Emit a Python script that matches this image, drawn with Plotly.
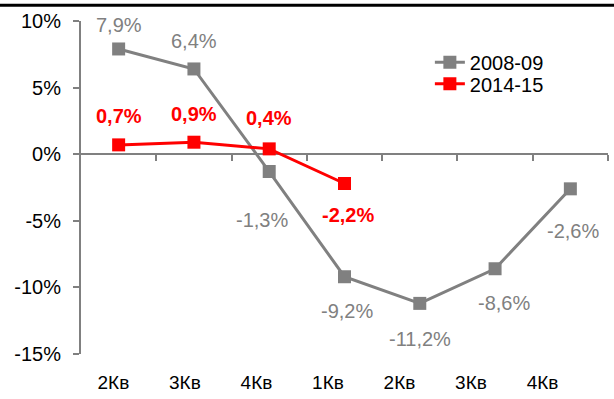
import plotly.graph_objects as go

# Quarter labels and growth rates (%, year over year)
quarters = ["2Кв", "3Кв", "4Кв", "1Кв", "2Кв", "3Кв", "4Кв"]
series_2008 = [7.9, 6.4, -1.3, -9.2, -11.2, -8.6, -2.6]
series_2014 = [0.7, 0.9, 0.4, -2.2]
y_ticks = [-15, -10, -5, 0, 5, 10]

# Label placement (pixel offsets from each point: dx, dy)
offsets_2008 = [(0, 24), (0, 28), (-7, -48), (2, -34), (0, -36), (9, -34), (3, -42)]
offsets_2014 = [(0, 29), (0, 28), (0, 31), (3, -31)]

GRAY = "#808080"
RED = "#ff0000"
FONT = "Liberation Sans, Arial, sans-serif"

x08 = list(range(len(series_2008)))
x14 = list(range(len(series_2014)))


def fmt(v):
    return f"{v:.1f}".replace(".", ",") + "%"


fig = go.Figure()
fig.add_trace(go.Scatter(
    x=x08, y=series_2008, name="2008-09", mode="lines+markers",
    line=dict(color=GRAY, width=3),
    marker=dict(symbol="square", size=13, color=GRAY),
    legend="legend",
))
fig.add_trace(go.Scatter(
    x=x14, y=series_2014, name="2014-15", mode="lines+markers",
    line=dict(color=RED, width=3),
    marker=dict(symbol="square", size=13, color=RED),
    legend="legend2",
))
# helper trace so the category-boundary tick axis is drawn
fig.add_trace(go.Scatter(x=[0], y=[None], xaxis="x2", showlegend=False,
                         hoverinfo="skip", mode="markers"))

annotations = []
for xi, v, (dx, dy) in zip(x08, series_2008, offsets_2008):
    annotations.append(dict(x=xi, y=v, text=fmt(v), showarrow=False,
                            xshift=dx, yshift=dy,
                            font=dict(family=FONT, size=20, color=GRAY)))
for xi, v, (dx, dy) in zip(x14, series_2014, offsets_2014):
    annotations.append(dict(x=xi, y=v, text="<b>" + fmt(v) + "</b>", showarrow=False,
                            xshift=dx, yshift=dy,
                            font=dict(family=FONT, size=20, color=RED)))

legend_style = dict(xanchor="left", yanchor="top",
                    font=dict(family=FONT, size=20, color="black"),
                    bgcolor="rgba(0,0,0,0)")

n = len(quarters)
fig.update_layout(
    width=614, height=399,
    margin=dict(l=81, r=6, t=21, b=42),
    paper_bgcolor="white", plot_bgcolor="white",
    font=dict(family=FONT, color="black"),
    annotations=annotations,
    showlegend=True,
    legend=dict(x=0.662, y=0.935, **legend_style),
    legend2=dict(x=0.662, y=0.87, **legend_style),
    xaxis=dict(
        range=[-0.5, n - 0.5],
        tickvals=[i * 0.95 - 0.07 for i in range(n)],
        ticktext=quarters,
        showgrid=False, zeroline=False, showline=False, ticks="",
        tickfont=dict(family=FONT, size=19, color="black"),
        ticklabelstandoff=15,
    ),
    xaxis2=dict(
        overlaying="x", anchor="free", position=15 / 25,
        range=[-0.5, n - 0.5],
        tickvals=[i + 0.5 for i in range(n)],
        showticklabels=False, showgrid=False, zeroline=False, showline=False,
        ticks="outside", ticklen=6, tickwidth=2, tickcolor=GRAY,
    ),
    yaxis=dict(
        range=[-15, 10], tickvals=y_ticks,
        ticktext=[f"{t}%" for t in y_ticks],
        showgrid=False,
        zeroline=True, zerolinecolor=GRAY, zerolinewidth=2,
        showline=True, linecolor=GRAY, linewidth=2,
        ticks="outside", ticklen=6, tickwidth=2, tickcolor=GRAY,
        tickfont=dict(family=FONT, size=20, color="black"),
        ticklabelstandoff=8,
    ),
    shapes=[dict(type="line", xref="paper", yref="paper",
                 x0=-81 / 527, x1=1 + 6 / 527, y0=1 + 16 / 336, y1=1 + 16 / 336,
                 line=dict(color="black", width=3))],
)

fig.write_html("out.html")
